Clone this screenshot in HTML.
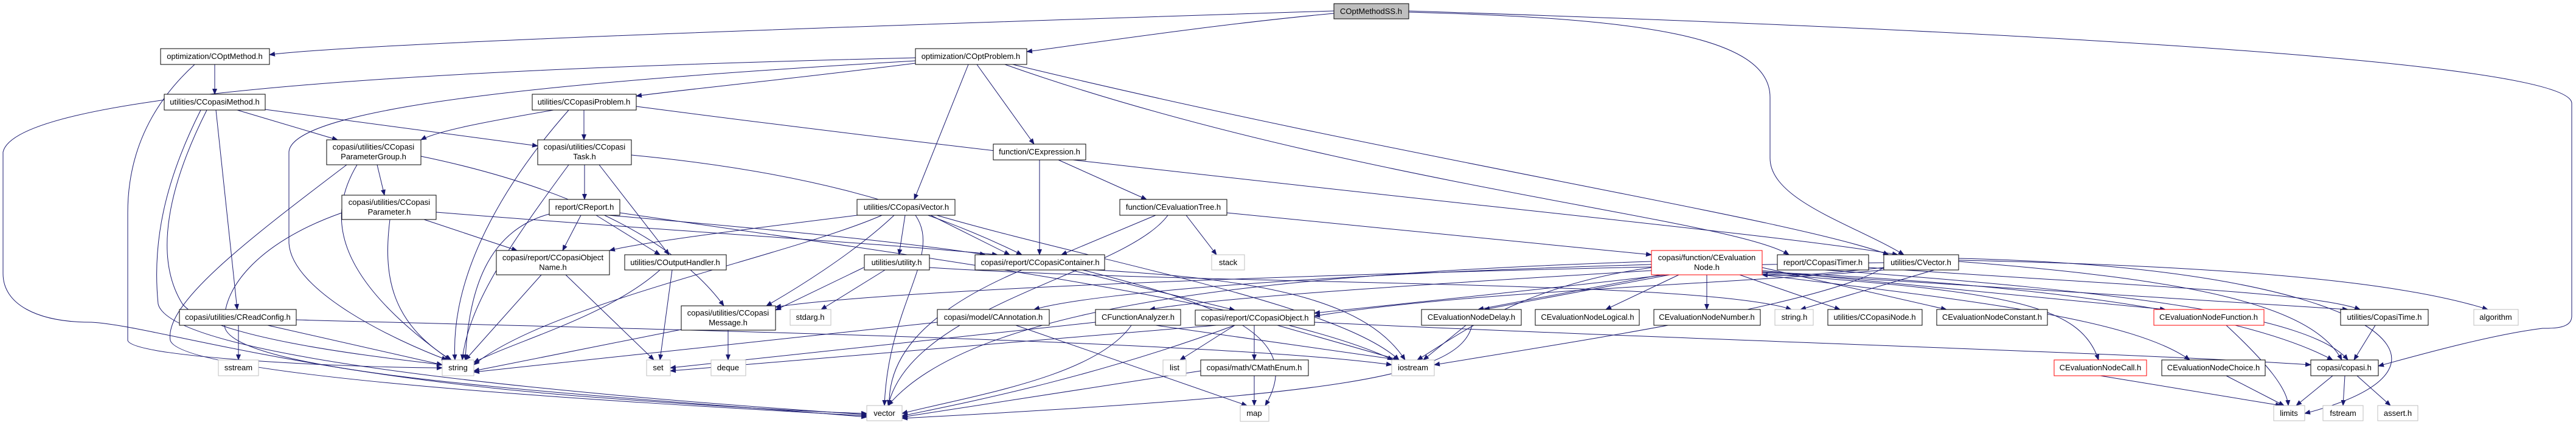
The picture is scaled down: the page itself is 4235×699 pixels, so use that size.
<!DOCTYPE html>
<html><head><meta charset="utf-8"><style>
html,body{margin:0;padding:0;background:#fff;}
svg{display:block;}
text{font-family:"Liberation Sans",sans-serif;font-size:13px;fill:#000;}
.n{fill:#fff;stroke:#000;stroke-width:1;}
.g{fill:#fff;stroke:#bfbfbf;stroke-width:1;}
.r{fill:#fff;stroke:#ff0000;stroke-width:1;}
.e path{fill:none;stroke:#191970;stroke-width:1;marker-end:url(#ah);}
</style></head><body>
<svg width="4235" height="699" viewBox="0 0 4235 699" xmlns="http://www.w3.org/2000/svg">
<defs><marker id="ah" markerUnits="userSpaceOnUse" markerWidth="10" markerHeight="8" refX="9" refY="4" orient="auto"><path d="M0,0 L10,4 L0,8 z" fill="#191970"/></marker></defs>
<g class="e">
<path d="M2193,18 C1500,40 600,70 443,90"/>
<path d="M2193,22 C2000,40 1800,70 1688,85"/>
<path d="M2316,20 C2700,30 2910,60 2910,160 L2910,260 C2910,330 3050,370 3130,419"/>
<path d="M2316,18 C3000,40 4228,90 4228,170 L4228,520 C4228,540 4200,540 4180,540 C4100,550 3990,580 3910,602"/>
<path d="M353,106 L353,155"/>
<path d="M320,106 C250,170 210,250 210,350 L210,560 C220,590 600,605 727,605"/>
<path d="M1505,104 C1300,130 1100,150 1046,158"/>
<path d="M1505,95 C900,110 30,140 5,250 L5,450 C5,500 60,530 150,530 C250,535 500,620 1000,655 C1200,670 1350,678 1425,680"/>
<path d="M1505,100 C1000,130 480,170 475,250 L475,400 C480,480 650,560 735,592"/>
<path d="M1606,106 L1700,237"/>
<path d="M1592,106 L1503,328"/>
<path d="M1652,106 C2200,300 2850,360 2941,419"/>
<path d="M1665,106 C2300,260 2950,360 3105,419"/>
<path d="M910,181 C800,200 720,215 692,230"/>
<path d="M960,181 L960,230"/>
<path d="M935,181 C830,300 740,450 748,592"/>
<path d="M1046,175 C2000,300 2900,380 3120,419"/>
<path d="M390,181 L555,230"/>
<path d="M436,180 L884,240"/>
<path d="M355,181 L390,509"/>
<path d="M340,181 C280,300 250,420 300,500 C350,560 650,590 727,600"/>
<path d="M330,181 C270,300 250,400 260,500 C280,580 800,640 1425,682"/>
<path d="M620,271 L632,321"/>
<path d="M587,271 C540,350 540,450 740,592"/>
<path d="M570,271 C400,400 270,500 280,560 C300,620 1000,660 1425,684"/>
<path d="M692,257 C900,300 1100,380 1190,503"/>
<path d="M961,271 L961,328"/>
<path d="M985,271 L1100,419"/>
<path d="M1038,255 C1300,280 1500,330 1680,419"/>
<path d="M935,271 C840,400 770,500 760,592"/>
<path d="M697,361 L850,412"/>
<path d="M641,361 C630,450 640,530 742,592"/>
<path d="M562,350 C420,400 360,480 370,540 C400,620 1000,650 1425,686"/>
<path d="M717,349 C1100,380 1450,400 1640,419"/>
<path d="M955,354 L925,412"/>
<path d="M980,354 L1085,419"/>
<path d="M1000,354 C1300,380 1500,400 1620,419"/>
<path d="M903,352 C800,380 770,480 765,592"/>
<path d="M1019,350 C1500,420 2100,500 2290,592"/>
<path d="M1709,263 L1709,419"/>
<path d="M1740,263 L1885,328"/>
<path d="M1530,354 L1660,419"/>
<path d="M1488,354 L1478,419"/>
<path d="M1470,354 C1400,420 1300,480 1260,503"/>
<path d="M1505,354 C1550,420 1460,500 1454,667"/>
<path d="M1410,354 C1200,380 1050,400 1002,412"/>
<path d="M1450,354 C1300,420 900,500 779,600"/>
<path d="M1540,354 C1800,430 2200,500 2300,592"/>
<path d="M1900,354 L1745,419"/>
<path d="M2017,350 L2715,419"/>
<path d="M1950,354 L2000,419"/>
<path d="M1920,354 C1850,450 1500,500 1460,667"/>
<path d="M890,452 L765,592"/>
<path d="M930,452 L1075,592"/>
<path d="M1105,444 L1085,592"/>
<path d="M1085,444 C1000,520 850,560 779,596"/>
<path d="M1455,444 L1350,509"/>
<path d="M1420,440 L1275,510"/>
<path d="M1528,440 C2000,470 2800,460 2945,509"/>
<path d="M1760,444 L2030,510"/>
<path d="M1680,444 C1500,520 1460,600 1462,667"/>
<path d="M1800,444 C2100,460 2250,500 2310,592"/>
<path d="M1780,444 C2000,500 2150,550 2080,667"/>
<path d="M2730,452 L2430,509"/>
<path d="M2745,452 L2440,509"/>
<path d="M2760,452 L2640,509"/>
<path d="M2806,452 L2806,509"/>
<path d="M2860,452 L3025,509"/>
<path d="M2897,440 L3200,509"/>
<path d="M2897,445 L3560,509"/>
<path d="M2897,448 L3860,509"/>
<path d="M2897,450 C3300,480 3420,500 3450,592"/>
<path d="M2897,452 C3200,490 3500,520 3600,592"/>
<path d="M2897,447 C3400,470 3700,520 3835,592"/>
<path d="M2715,440 C2500,470 2400,550 2330,592"/>
<path d="M2715,430 C2100,450 1600,500 1460,667"/>
<path d="M2715,445 C2300,470 2000,490 1890,509"/>
<path d="M2740,452 C2500,480 2300,500 2161,515"/>
<path d="M2715,435 C2200,450 1800,480 1700,509"/>
<path d="M3000,444 C3500,480 3800,520 3860,592"/>
<path d="M3072,440 C3500,470 3800,480 3880,509"/>
<path d="M3180,444 L2960,509"/>
<path d="M3097,440 C3000,500 2600,560 2358,600"/>
<path d="M3220,428 C3800,440 4000,480 4090,509"/>
<path d="M3220,425 C3900,440 4100,600 3789,680"/>
<path d="M3220,430 C3600,460 3800,500 3850,592"/>
<path d="M3097,440 C3000,450 2950,455 2897,452"/>
<path d="M3097,444 C2800,470 2400,480 2161,520"/>
<path d="M3097,432 C2500,440 1500,470 1275,505"/>
<path d="M392,535 L392,592"/>
<path d="M440,535 L727,600"/>
<path d="M487,526 C1000,540 2000,560 2288,600"/>
<path d="M1130,540 L779,610"/>
<path d="M1197,543 L1197,592"/>
<path d="M1541,530 L779,612"/>
<path d="M1670,535 L2050,667"/>
<path d="M1860,535 C1800,620 1600,650 1483,680"/>
<path d="M1900,535 L2300,592"/>
<path d="M1801,530 L1102,605"/>
<path d="M2000,535 L1102,610"/>
<path d="M2030,535 L1940,592"/>
<path d="M2062,535 L2062,592"/>
<path d="M2100,535 L2300,592"/>
<path d="M2030,535 C1800,620 1600,660 1483,684"/>
<path d="M2161,530 C2800,560 3500,580 3799,600"/>
<path d="M2062,618 L2062,667"/>
<path d="M1974,610 L1483,686"/>
<path d="M2410,535 L2340,592"/>
<path d="M2420,535 C2400,620 2200,650 1483,688"/>
<path d="M3453,618 L3750,667"/>
<path d="M3660,618 L3755,667"/>
<path d="M3660,535 C3730,600 3760,640 3762,667"/>
<path d="M3905,535 L3870,592"/>
<path d="M3835,618 L3775,667"/>
<path d="M3855,618 L3852,667"/>
<path d="M3875,618 L3930,667"/>
</g>
<g>
<rect x="2193" y="6" width="123" height="25" fill="#bfbfbf" stroke="#000"/><text x="2254" y="23" text-anchor="middle">COptMethodSS.h</text>
<rect class="n" x="264" y="80" width="179" height="26"/><text x="353" y="97" text-anchor="middle">optimization/COptMethod.h</text>
<rect class="n" x="1505" y="80" width="183" height="26"/><text x="1596" y="97" text-anchor="middle">optimization/COptProblem.h</text>
<rect class="n" x="270" y="155" width="166" height="26"/><text x="353" y="172" text-anchor="middle">utilities/CCopasiMethod.h</text>
<rect class="n" x="875" y="155" width="171" height="26"/><text x="960" y="172" text-anchor="middle">utilities/CCopasiProblem.h</text>
<rect class="n" x="537" y="230" width="155" height="41"/><text x="614" y="246" text-anchor="middle">copasi/utilities/CCopasi</text><text x="614" y="262" text-anchor="middle">ParameterGroup.h</text>
<rect class="n" x="884" y="230" width="154" height="41"/><text x="961" y="246" text-anchor="middle">copasi/utilities/CCopasi</text><text x="961" y="262" text-anchor="middle">Task.h</text>
<rect class="n" x="562" y="321" width="155" height="40"/><text x="640" y="337" text-anchor="middle">copasi/utilities/CCopasi</text><text x="640" y="353" text-anchor="middle">Parameter.h</text>
<rect class="n" x="903" y="328" width="116" height="26"/><text x="961" y="345" text-anchor="middle">report/CReport.h</text>
<rect class="n" x="1633" y="237" width="152" height="26"/><text x="1709" y="254" text-anchor="middle">function/CExpression.h</text>
<rect class="n" x="1409" y="328" width="161" height="26"/><text x="1490" y="345" text-anchor="middle">utilities/CCopasiVector.h</text>
<rect class="n" x="1841" y="328" width="176" height="26"/><text x="1929" y="345" text-anchor="middle">function/CEvaluationTree.h</text>
<rect class="n" x="816" y="412" width="186" height="40"/><text x="909" y="428" text-anchor="middle">copasi/report/CCopasiObject</text><text x="909" y="444" text-anchor="middle">Name.h</text>
<rect class="n" x="1027" y="419" width="167" height="25"/><text x="1110" y="436" text-anchor="middle">utilities/COutputHandler.h</text>
<rect class="n" x="1421" y="419" width="107" height="25"/><text x="1474" y="436" text-anchor="middle">utilities/utility.h</text>
<rect class="n" x="1603" y="419" width="213" height="25"/><text x="1710" y="436" text-anchor="middle">copasi/report/CCopasiContainer.h</text>
<rect class="g" x="1992" y="419" width="54" height="25"/><text x="2019" y="436" text-anchor="middle">stack</text>
<rect class="r" x="2715" y="412" width="182" height="40"/><text x="2806" y="428" text-anchor="middle">copasi/function/CEvaluation</text><text x="2806" y="444" text-anchor="middle">Node.h</text>
<rect class="n" x="2922" y="419" width="150" height="25"/><text x="2997" y="436" text-anchor="middle">report/CCopasiTimer.h</text>
<rect class="n" x="3097" y="419" width="123" height="25"/><text x="3158" y="436" text-anchor="middle">utilities/CVector.h</text>
<rect class="n" x="295" y="509" width="192" height="26"/><text x="391" y="526" text-anchor="middle">copasi/utilities/CReadConfig.h</text>
<rect class="n" x="1120" y="503" width="155" height="40"/><text x="1197" y="519" text-anchor="middle">copasi/utilities/CCopasi</text><text x="1197" y="535" text-anchor="middle">Message.h</text>
<rect class="g" x="1299" y="509" width="67" height="26"/><text x="1332" y="526" text-anchor="middle">stdarg.h</text>
<rect class="n" x="1541" y="509" width="184" height="26"/><text x="1633" y="526" text-anchor="middle">copasi/model/CAnnotation.h</text>
<rect class="n" x="1801" y="509" width="140" height="26"/><text x="1871" y="526" text-anchor="middle">CFunctionAnalyzer.h</text>
<rect class="n" x="1965" y="510" width="196" height="25"/><text x="2063" y="527" text-anchor="middle">copasi/report/CCopasiObject.h</text>
<rect class="n" x="2337" y="509" width="164" height="26"/><text x="2419" y="526" text-anchor="middle">CEvaluationNodeDelay.h</text>
<rect class="n" x="2524" y="509" width="171" height="26"/><text x="2610" y="526" text-anchor="middle">CEvaluationNodeLogical.h</text>
<rect class="n" x="2719" y="509" width="175" height="26"/><text x="2806" y="526" text-anchor="middle">CEvaluationNodeNumber.h</text>
<rect class="g" x="2918" y="509" width="63" height="26"/><text x="2950" y="526" text-anchor="middle">string.h</text>
<rect class="n" x="3005" y="509" width="155" height="26"/><text x="3082" y="526" text-anchor="middle">utilities/CCopasiNode.h</text>
<rect class="n" x="3184" y="509" width="182" height="26"/><text x="3275" y="526" text-anchor="middle">CEvaluationNodeConstant.h</text>
<rect class="r" x="3541" y="509" width="181" height="26"/><text x="3631" y="526" text-anchor="middle">CEvaluationNodeFunction.h</text>
<rect class="n" x="3848" y="509" width="144" height="26"/><text x="3920" y="526" text-anchor="middle">utilities/CopasiTime.h</text>
<rect class="g" x="4067" y="509" width="73" height="26"/><text x="4103" y="526" text-anchor="middle">algorithm</text>
<rect class="g" x="359" y="592" width="66" height="26"/><text x="392" y="609" text-anchor="middle">sstream</text>
<rect class="g" x="727" y="592" width="52" height="26"/><text x="753" y="609" text-anchor="middle">string</text>
<rect class="g" x="1063" y="592" width="39" height="26"/><text x="1082" y="609" text-anchor="middle">set</text>
<rect class="g" x="1169" y="592" width="57" height="26"/><text x="1197" y="609" text-anchor="middle">deque</text>
<rect class="g" x="1912" y="592" width="38" height="26"/><text x="1931" y="609" text-anchor="middle">list</text>
<rect class="n" x="1974" y="592" width="177" height="26"/><text x="2062" y="609" text-anchor="middle">copasi/math/CMathEnum.h</text>
<rect class="g" x="2288" y="592" width="70" height="26"/><text x="2323" y="609" text-anchor="middle">iostream</text>
<rect class="r" x="3377" y="592" width="152" height="26"/><text x="3453" y="609" text-anchor="middle">CEvaluationNodeCall.h</text>
<rect class="n" x="3554" y="592" width="170" height="26"/><text x="3639" y="609" text-anchor="middle">CEvaluationNodeChoice.h</text>
<rect class="n" x="3799" y="592" width="111" height="26"/><text x="3854" y="609" text-anchor="middle">copasi/copasi.h</text>
<rect class="g" x="1425" y="667" width="58" height="25"/><text x="1454" y="684" text-anchor="middle">vector</text>
<rect class="g" x="2039" y="667" width="47" height="26"/><text x="2062" y="684" text-anchor="middle">map</text>
<rect class="g" x="3738" y="667" width="51" height="25"/><text x="3763" y="684" text-anchor="middle">limits</text>
<rect class="g" x="3819" y="667" width="66" height="25"/><text x="3852" y="684" text-anchor="middle">fstream</text>
<rect class="g" x="3909" y="667" width="66" height="25"/><text x="3942" y="684" text-anchor="middle">assert.h</text>
</g>
</svg>
</body></html>
